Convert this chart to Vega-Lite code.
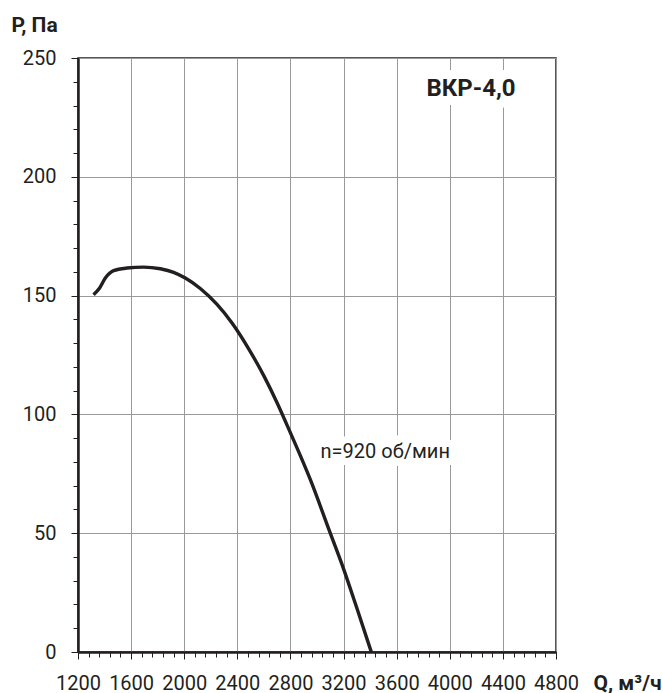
{
  "$schema": "https://vega.github.io/schema/vega-lite/v6.json",
  "width": 478,
  "height": 594,
  "autosize": {"type": "none"},
  "padding": {"left": 78, "top": 58, "right": 107, "bottom": 41},
  "background": "white",
  "config": {
    "view": {"stroke": "#231f20", "strokeWidth": 1.5},
    "font": "Roboto"
  },
  "datasets": {
    "curve": [
      {"Q": 1317, "P": 150.4},
      {"Q": 1363, "P": 153.2},
      {"Q": 1406, "P": 157.4},
      {"Q": 1468, "P": 160.5},
      {"Q": 1569, "P": 161.6},
      {"Q": 1694, "P": 162.0},
      {"Q": 1820, "P": 161.3},
      {"Q": 1920, "P": 159.8},
      {"Q": 2008, "P": 157.4},
      {"Q": 2121, "P": 153.0},
      {"Q": 2247, "P": 146.3},
      {"Q": 2360, "P": 138.5},
      {"Q": 2490, "P": 127.2},
      {"Q": 2600, "P": 116.2},
      {"Q": 2700, "P": 104.8},
      {"Q": 2800, "P": 92.2},
      {"Q": 2950, "P": 72.5},
      {"Q": 3100, "P": 50},
      {"Q": 3200, "P": 35},
      {"Q": 3300, "P": 18.5},
      {"Q": 3409, "P": 0}
    ],
    "title": [{"label": "ВКР-4,0", "Q": 4160, "P": 237}],
    "speed": [{"label": "n=920 об/мин", "Q": 3514, "P": 84.3}]
  },
  "resolve": {"axis": {"x": "independent", "y": "independent"}},
  "layer": [
    {
      "data": {"name": "curve"},
      "mark": {"type": "line", "interpolate": "monotone", "color": "#231f20", "strokeWidth": 3.4},
      "encoding": {
        "x": {
          "field": "Q",
          "type": "quantitative",
          "scale": {"domain": [1200, 4800], "nice": false, "zero": false},
          "axis": {
            "orient": "bottom",
            "values": [1200,1600,2000,2400,2800,3200,3600,4000,4400,4800],
            "format": "d",
            "labelOverlap": false,
            "labelFlush": false,
            "labelFontSize": 20,
            "labelColor": "#231f20",
            "labelPadding": 14,
            "tickSize": 7,
            "tickColor": "#231f20",
            "tickWidth": 1,
            "grid": true,
            "gridColor": "#9a9a9a",
            "gridWidth": 1,
            "domainColor": "#231f20",
            "domainWidth": 2.5,
            "title": "Q, м³/ч",
            "titleFontSize": 21,
            "titleFontWeight": "bold",
            "titleColor": "#231f20",
            "titleX": 515,
            "titleY": 31,
            "titleAlign": "left",
            "titleBaseline": "middle",
            "titleAngle": 0
          }
        },
        "y": {
          "field": "P",
          "type": "quantitative",
          "scale": {"domain": [0, 250], "nice": false},
          "axis": {
            "orient": "left",
            "values": [0,50,100,150,200,250],
            "labelOverlap": false,
            "labelFlush": false,
            "labelFontSize": 20,
            "labelColor": "#231f20",
            "labelPadding": 15,
            "tickSize": 7,
            "tickColor": "#231f20",
            "tickWidth": 1,
            "grid": true,
            "gridColor": "#9a9a9a",
            "gridWidth": 1,
            "domainColor": "#231f20",
            "domainWidth": 2.5,
            "title": "P, Па",
            "titleFontSize": 21,
            "titleFontWeight": "bold",
            "titleColor": "#231f20",
            "titleX": -67,
            "titleY": -33,
            "titleAlign": "left",
            "titleBaseline": "middle",
            "titleAngle": 0
          }
        }
      }
    },
    {
      "data": {"name": "curve"},
      "mark": {"type": "line", "opacity": 0},
      "encoding": {
        "x": {
          "field": "Q",
          "type": "quantitative",
          "axis": {
            "orient": "bottom",
            "values": [1200,1280,1360,1440,1520,1600,1680,1760,1840,1920,2000,2080,2160,2240,2320,2400,2480,2560,2640,2720,2800,2880,2960,3040,3120,3200,3280,3360,3440,3520,3600,3680,3760,3840,3920,4000,4080,4160,4240,4320,4400,4480,4560,4640,4720,4800],
            "labels": false,
            "grid": false,
            "domain": false,
            "tickSize": 5,
            "tickColor": "#231f20",
            "tickWidth": 1,
            "title": null
          }
        },
        "y": {
          "field": "P",
          "type": "quantitative",
          "axis": {
            "orient": "left",
            "values": [0,10,20,30,40,50,60,70,80,90,100,110,120,130,140,150,160,170,180,190,200,210,220,230,240,250],
            "labels": false,
            "grid": false,
            "domain": false,
            "tickSize": 5,
            "tickColor": "#231f20",
            "tickWidth": 1,
            "title": null
          }
        }
      }
    },
    {
      "data": {"name": "title"},
      "mark": {"type": "text", "fontSize": 24, "fontWeight": "bold", "fill": "white", "stroke": "white", "strokeWidth": 18, "align": "center", "baseline": "middle"},
      "encoding": {
        "x": {"field": "Q", "type": "quantitative", "axis": null},
        "y": {"field": "P", "type": "quantitative", "axis": null},
        "text": {"field": "label"}
      }
    },
    {
      "data": {"name": "title"},
      "mark": {"type": "text", "fontSize": 24, "fontWeight": "bold", "fill": "#231f20", "align": "center", "baseline": "middle"},
      "encoding": {
        "x": {"field": "Q", "type": "quantitative", "axis": null},
        "y": {"field": "P", "type": "quantitative", "axis": null},
        "text": {"field": "label"}
      }
    },
    {
      "data": {"name": "speed"},
      "mark": {"type": "text", "fontSize": 20, "fill": "white", "stroke": "white", "strokeWidth": 14, "align": "center", "baseline": "middle"},
      "encoding": {
        "x": {"field": "Q", "type": "quantitative", "axis": null},
        "y": {"field": "P", "type": "quantitative", "axis": null},
        "text": {"field": "label"}
      }
    },
    {
      "data": {"name": "speed"},
      "mark": {"type": "text", "fontSize": 20, "fill": "#231f20", "align": "center", "baseline": "middle"},
      "encoding": {
        "x": {"field": "Q", "type": "quantitative", "axis": null},
        "y": {"field": "P", "type": "quantitative", "axis": null},
        "text": {"field": "label"}
      }
    }
  ]
}
